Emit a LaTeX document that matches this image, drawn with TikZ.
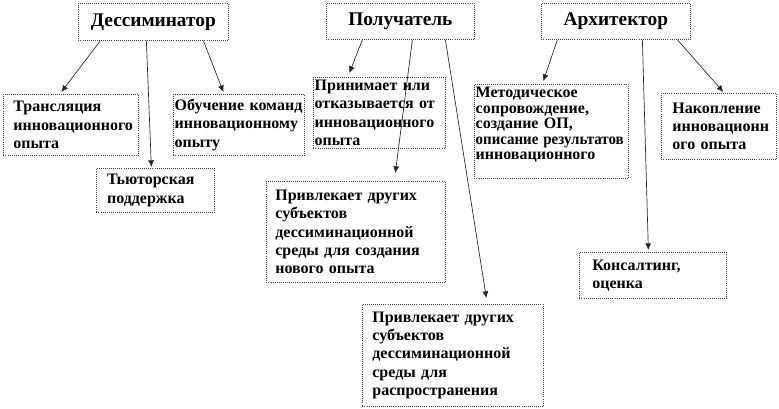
\documentclass[tikz,border=0pt]{standalone}
\usepackage{graphicx}
\usepackage{fontspec}
\setmainfont{Liberation Serif}
\usetikzlibrary{arrows.meta}
\tikzset{
  box/.style={draw=black!75, densely dotted, line width=.55pt, anchor=north west,
    align=left, inner ysep=0pt, font=\bfseries\fontsize{12}{13.7}\selectfont},
  head/.style={draw=black!75, densely dotted, line width=.55pt, anchor=north west,
    align=center, inner sep=0pt, font=\bfseries\fontsize{14.5}{17}\selectfont},
  arr/.style={-{Latex[length=5pt,width=4.5pt]}, line width=.5pt, black!85}
}
\begin{document}
\begin{tikzpicture}[x=0.75pt,y=-0.75pt]
  \useasboundingbox (0,0) rectangle (779,409);
  % roles
  \node[head, minimum width=112.5pt, minimum height=27.75pt] (des) at (78,3) {Дессиминатор};
  \node[head, minimum width=111pt, minimum height=27pt] (pol) at (326,3) {Получатель};
  \node[head, minimum width=111.75pt, minimum height=27pt] (arch) at (541,3) {Архитектор};
  % functions
  \node[box, inner xsep=7.5pt, text width=86.25pt, minimum height=45.75pt] (tr) at (3,94)
    {Трансляция\\инновационного\\опыта};
  \node[box, inner xsep=1pt, text width=96.25pt, minimum height=45.75pt] (ob) at (173,94)
    {Обучение команд\\инновационному\\опыту};
  \node[box, inner xsep=8pt, text width=72.5pt, minimum height=33pt] (tut) at (96,168)
    {Тьюторская\\поддержка};
  \node[box, inner xsep=1pt, text width=97pt, minimum height=53.25pt] (prin) at (313,77)
    {Принимает или\\отказывается от\\инновационного\\опыта};
  \node[box, inner xsep=6.75pt, text width=120.75pt, minimum height=75.75pt] (priv1) at (266,181)
    {Привлекает других\\субъектов\\дессиминационной\\среды для создания\\нового опыта};
  \node[box, inner xsep=7.5pt, text width=120.75pt, minimum height=76.5pt] (priv2) at (362,304)
    {Привлекает других\\субъектов\\дессиминационной\\среды для\\распространения};
  \node[box, inner xsep=1pt, text width=113.5pt, minimum height=70.5pt,
    font=\bfseries\fontsize{12}{11.6}\selectfont] (met) at (474,84)
    {\parbox[c][66pt][t]{113.5pt}{\raggedright Методическое\\сопровождение,\\создание ОП,\\\resizebox{111pt}{\height}{описание результатов}\\инновационного}};
  \node[box, inner xsep=8.25pt, text width=69.75pt, minimum height=49.5pt] (nak) at (661,93)
    {Накопление\\инновационн\\ого опыта};
  \node[box, inner xsep=9.75pt, text width=90.75pt, minimum height=34.5pt] (kons) at (579,252)
    {Консалтинг,\\оценка};
  % connectors
  \draw[arr] ([shift={(-53,0)}]des.south) -- ([shift={(-9.5,-2)}]tr.north);
  \draw[arr] ([shift={(-7,0)}]des.south) -- ([shift={(-4,-1)}]tut.north);
  \draw[arr] ([shift={(50,0)}]des.south) -- ([shift={(-15.5,-2)}]ob.north);
  \draw[arr] ([shift={(-38,0)}]pol.south) -- ([shift={(-30,-4)}]prin.north);
  \draw[arr] ([shift={(12,0)}]pol.south) -- ([shift={(39.5,-8)}]priv1.north);
  \draw[arr] ([shift={(45,0)}]pol.south) -- ([shift={(33.5,-6)}]priv2.north);
  \draw[arr] ([shift={(-58.5,0)}]arch.south) -- ([shift={(-8,-3)}]met.north);
  \draw[arr] ([shift={(26.5,0)}]arch.south) -- ([shift={(-4.5,-2)}]kons.north);
  \draw[arr] ([shift={(61.5,0)}]arch.south) -- ([shift={(4.5,-1)}]nak.north);
\end{tikzpicture}
\end{document}
